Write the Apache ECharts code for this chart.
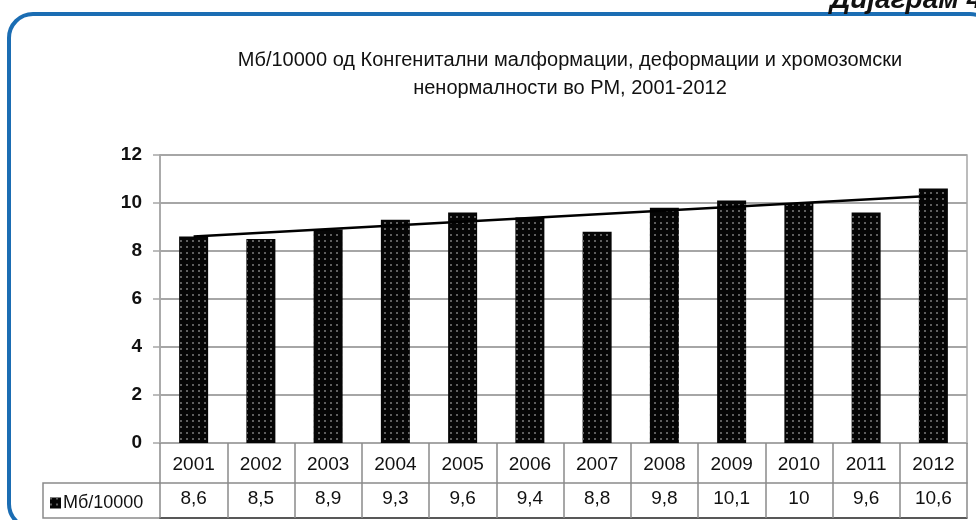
<!DOCTYPE html>
<html><head><meta charset="utf-8">
<script src="https://cdn.jsdelivr.net/npm/echarts@6/dist/echarts.min.js"></script>
<style>html,body{margin:0;padding:0;background:#fff}#c{width:976px;height:520px}</style>
</head><body><div id="c"></div>
<script>
const categories = ['2001','2002','2003','2004','2005','2006','2007','2008','2009','2010','2011','2012'];
const values = [8.6, 8.5, 8.9, 9.3, 9.6, 9.4, 8.8, 9.8, 10.1, 10, 9.6, 10.6];
const trendEnds = [8.6, 10.3];
const yTicks = {min: 0, max: 12, interval: 2};
const seriesName = 'Мб/10000';
const titleLines = ['Мб/10000 од Конгенитални малформации, деформации и хромозомски', 'ненормалности во РМ, 2001-2012'];
const cornerLabel = 'Дијаграм 4';

const valueLabels = values.map(v => String(v).replace('.', ','));
const FONT = '"Liberation Sans", Arial, sans-serif';
const chart = echarts.init(document.getElementById('c'), null, {renderer: 'canvas'});
const gridCol = '#a6a6a6';
chart.setOption({
  animation: false,
  backgroundColor: '#fff',
  textStyle: {fontFamily: FONT},
  grid: {left: 160, right: 9, top: 155, bottom: 77, show: true, borderColor: gridCol, borderWidth: 1.5, backgroundColor: 'transparent'},
  legend: {
    left: 45, top: 489, itemWidth: 11, itemHeight: 11, itemGap: 4,
    icon: 'rect',
    textStyle: {fontSize: 18, color: '#111', fontFamily: FONT, padding: [0, 0, 0, -3]},
    data: [seriesName]
  },
  xAxis: [{
    type: 'category', data: categories, position: 'bottom',
    axisLine: {show: true, lineStyle: {color: gridCol, width: 1.5}},
    axisTick: {show: true, alignWithLabel: false, length: 75, lineStyle: {color: '#8a8a8a', width: 1.5}},
    axisLabel: {fontSize: 19, color: '#111', margin: 12, fontFamily: FONT}
  }, {
    type: 'category', data: valueLabels, position: 'bottom', offset: 40, gridIndex: 0,
    axisLine: {show: true, lineStyle: {color: '#8a8a8a', width: 1.5}},
    axisTick: {show: false},
    axisLabel: {fontSize: 19, color: '#111', margin: 6, fontFamily: FONT}
  }, {
    type: 'category', data: valueLabels, position: 'bottom', offset: 75, gridIndex: 0,
    axisLine: {show: true, lineStyle: {color: '#222', width: 1.5}},
    axisTick: {show: false}, axisLabel: {show: false}
  }],
  yAxis: {
    type: 'value', min: yTicks.min, max: yTicks.max, interval: yTicks.interval,
    axisLine: {show: true, lineStyle: {color: gridCol, width: 1.5}},
    axisTick: {show: true, length: 7, lineStyle: {color: gridCol, width: 1.5}},
    splitLine: {show: true, lineStyle: {color: gridCol, width: 2}},
    axisLabel: {fontSize: 19, color: '#111', margin: 18, fontWeight: 'bold', fontFamily: FONT}
  },
  series: [{
    name: seriesName, type: 'bar', data: values, xAxisIndex: 0, barWidth: 29,
    itemStyle: {color: '#050505', decal: {symbol: 'rect', symbolSize: 1, color: 'rgba(110,110,110,0.85)', dashArrayX: [1.3, 3.5], dashArrayY: [1.3, 3.5]}},
    z: 2
  }, {
    name: 'trend', type: 'line', xAxisIndex: 0,
    data: [[categories[0], trendEnds[0]], [categories[categories.length - 1], trendEnds[1]]],
    symbol: 'none', lineStyle: {color: '#000', width: 2.5}, z: 5, silent: true
  }],
  graphic: [
    {type: 'rect', shape: {x: 9, y: 14, width: 985, height: 514, r: 24}, style: {fill: 'none', stroke: '#1b6db3', lineWidth: 4}, z: 0},
    {type: 'text', style: {text: titleLines[0], x: 570, y: 60, textAlign: 'center', textVerticalAlign: 'middle', font: '20px ' + FONT, fill: '#111'}},
    {type: 'text', style: {text: titleLines[1], x: 570, y: 88, textAlign: 'center', textVerticalAlign: 'middle', font: '20px ' + FONT, fill: '#111'}},
    {type: 'text', style: {text: cornerLabel, x: 830, y: 14, textAlign: 'left', textVerticalAlign: 'bottom', font: 'italic bold 28px ' + FONT, fill: '#111'}},
    {type: 'polyline', shape: {points: [[160, 483], [43, 483], [43, 518], [160, 518]]}, style: {fill: 'none', stroke: '#8a8a8a', lineWidth: 1.5}}
  ]
});
</script></body></html>
